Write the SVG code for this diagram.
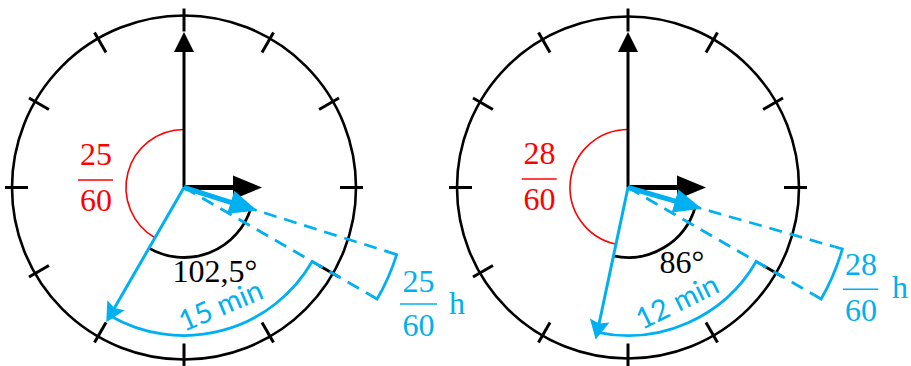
<svg xmlns="http://www.w3.org/2000/svg" width="911" height="366" viewBox="0 0 911 366">
<style>
.face{fill:none;stroke:#000;stroke-width:2.6}
.tick{stroke:#000;stroke-width:3}
.red{fill:none;stroke:#FF0000;stroke-width:1.6}
.blk{fill:none;stroke:#000;stroke-width:2.8}
.bl{fill:none;stroke:#00B0F0;stroke-width:2.8}
.dash{fill:none;stroke:#00B0F0;stroke-width:2.7;stroke-dasharray:13 8}
.serif{font-family:"Liberation Serif","Times New Roman",serif;font-size:32px}
.sans{font-family:Lato,"Noto Sans",sans-serif;font-size:29px;fill:#00B0F0}
</style>
<defs>
<g id="ticks">
<line class="tick" x1="0" y1="-156" x2="0" y2="-179" transform="rotate(0)"/>
<line class="tick" x1="0" y1="-156" x2="0" y2="-179" transform="rotate(30)"/>
<line class="tick" x1="0" y1="-156" x2="0" y2="-179" transform="rotate(60)"/>
<line class="tick" x1="0" y1="-156" x2="0" y2="-179" transform="rotate(90)"/>
<line class="tick" x1="0" y1="-156" x2="0" y2="-179" transform="rotate(120)"/>
<line class="tick" x1="0" y1="-156" x2="0" y2="-179" transform="rotate(150)"/>
<line class="tick" x1="0" y1="-156" x2="0" y2="-179" transform="rotate(180)"/>
<line class="tick" x1="0" y1="-156" x2="0" y2="-179" transform="rotate(210)"/>
<line class="tick" x1="0" y1="-156" x2="0" y2="-179" transform="rotate(240)"/>
<line class="tick" x1="0" y1="-156" x2="0" y2="-179" transform="rotate(270)"/>
<line class="tick" x1="0" y1="-156" x2="0" y2="-179" transform="rotate(300)"/>
<line class="tick" x1="0" y1="-156" x2="0" y2="-179" transform="rotate(330)"/>
</g>
<g id="blackhands">
<line x1="0" y1="0" x2="0" y2="-137" stroke="#000" stroke-width="3"/>
<polygon points="0,-155.5 -10,-135.5 10,-135.5" fill="#000"/>
<line x1="0" y1="0" x2="50" y2="0" stroke="#000" stroke-width="5"/>
<polygon points="78,0 49,-12 49,12" fill="#000"/>
</g>
<g id="hourhand">
<line x1="0" y1="0" x2="0" y2="-50" stroke="#00B0F0" stroke-width="5"/>
<polygon points="0,-77 -12,-49 12,-49" fill="#00B0F0"/>
</g>
<g id="minhand">
<line x1="0" y1="0" x2="0" y2="-140" stroke="#00B0F0" stroke-width="3"/>
<polygon points="0,-155.5 -10,-136 0,-139 10,-136" fill="#00B0F0"/>
</g>
</defs>

<g id="clock1" transform="translate(184,187.5)">
<circle class="face" cx="0" cy="0" r="172"/>
<use href="#ticks"/>
<path class="red" d="M0,-58 A58,58 0 0 0 -29,50.23"/>
<path class="blk" d="M66.76,21.05 A70,70 0 0 1 -35,60.62"/>
<use href="#blackhands"/>
<line class="dash" x1="0" y1="0" x2="205.05" y2="64.65"/>
<line class="dash" x1="0" y1="0" x2="186.2" y2="107.5"/>
<path class="bl" d="M205.05,64.65 L212.68,67.06 A223,223 0 0 1 193.12,111.5 L186.2,107.5"/>
<path class="bl" d="M134.23,77.5 L128.17,74 A148,148 0 0 1 -74,128.17"/>
<use href="#hourhand" transform="rotate(107.5)"/>
<use href="#minhand" transform="rotate(210)"/>
</g>

<g id="clock2" transform="translate(628,187.5)">
<circle class="face" cx="0" cy="0" r="171"/>
<use href="#ticks"/>
<path class="red" d="M0,-58 A58,58 0 0 0 -12.06,56.73"/>
<path class="blk" d="M67.29,19.29 A70,70 0 0 1 -14.55,68.47"/>
<use href="#blackhands"/>
<line class="dash" x1="0" y1="0" x2="206.67" y2="59.26"/>
<line class="dash" x1="0" y1="0" x2="186.2" y2="107.5"/>
<path class="bl" d="M206.67,59.26 L214.36,61.47 A223,223 0 0 1 193.12,111.5 L186.2,107.5"/>
<path class="bl" d="M134.23,77.5 L128.17,74 A148,148 0 0 1 -30.77,144.77"/>
<use href="#hourhand" transform="rotate(106)"/>
<use href="#minhand" transform="rotate(192)"/>
</g>

<g id="labels1">
<text class="serif" x="96" y="165" text-anchor="middle" fill="#FF0000">25</text>
<line x1="78" y1="180" x2="113" y2="180" stroke="#FF0000" stroke-width="1.6"/>
<text class="serif" x="96" y="211" text-anchor="middle" fill="#FF0000">60</text>
<text class="serif" x="215" y="282" text-anchor="middle" fill="#000">102,5°</text>
<text class="sans" transform="translate(184,332) rotate(-23)">15 min</text>
<text class="serif" x="418.5" y="291.5" text-anchor="middle" fill="#00B0F0">25</text>
<line x1="400" y1="304" x2="437" y2="304" stroke="#00B0F0" stroke-width="1.6"/>
<text class="serif" x="418.5" y="336" text-anchor="middle" fill="#00B0F0">60</text>
<text class="serif" x="449" y="314" fill="#00B0F0">h</text>
</g>

<g id="labels2">
<text class="serif" x="539.5" y="164" text-anchor="middle" fill="#FF0000">28</text>
<line x1="521.7" y1="179" x2="556.7" y2="179" stroke="#FF0000" stroke-width="1.6"/>
<text class="serif" x="539.5" y="210" text-anchor="middle" fill="#FF0000">60</text>
<text class="serif" x="682" y="273" text-anchor="middle" fill="#000">86°</text>
<text class="sans" transform="translate(642,330) rotate(-26)">12 min</text>
<text class="serif" x="861" y="275" text-anchor="middle" fill="#00B0F0">28</text>
<line x1="843" y1="289.3" x2="878.3" y2="289.3" stroke="#00B0F0" stroke-width="1.6"/>
<text class="serif" x="861" y="320.5" text-anchor="middle" fill="#00B0F0">60</text>
<text class="serif" x="892" y="298" fill="#00B0F0">h</text>
</g>
</svg>
